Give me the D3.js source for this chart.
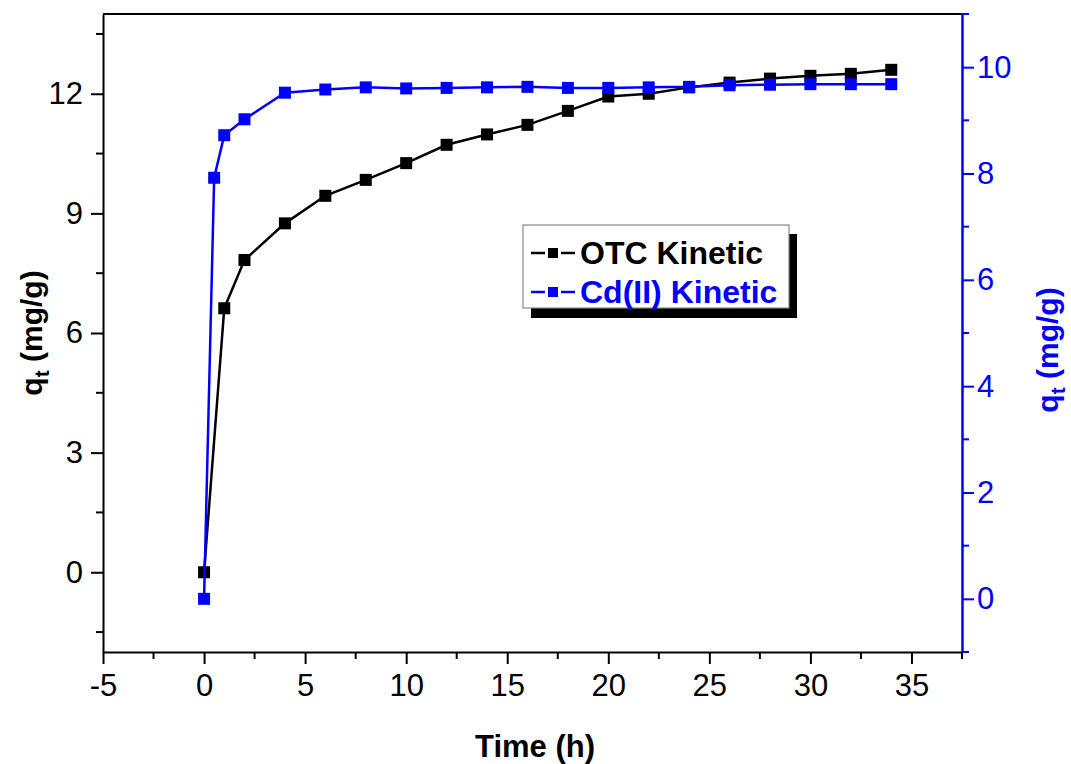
<!DOCTYPE html>
<html>
<head>
<meta charset="utf-8">
<script src="https://cdn.jsdelivr.net/npm/d3@7"></script>
<style>
  body { margin: 0; background: #fff; }
  text { font-family: Arial, "Liberation Sans", sans-serif; }
</style>
</head>
<body>
<svg id="chart" width="1071" height="764"></svg>
<script>
// time points (h)
var otcTime = [0, 1, 2, 4, 6, 8, 10, 12, 14, 16, 18, 20, 22, 24, 26, 28, 30, 32, 34];
var otcQt = [0, 6.62, 7.83, 8.75, 9.44, 9.84, 10.26, 10.72, 10.98, 11.22, 11.57, 11.93, 12.0, 12.16, 12.28, 12.38, 12.45, 12.5, 12.6];

var cdTime = [0, 0.5, 1, 2, 4, 6, 8, 10, 12, 14, 16, 18, 20, 22, 24, 26, 28, 30, 32, 34];
var cdQt = [0, 7.92, 8.72, 9.02, 9.52, 9.58, 9.62, 9.6, 9.61, 9.62, 9.63, 9.61, 9.61, 9.62, 9.63, 9.66, 9.67, 9.68, 9.68, 9.68];

var xTicks = [-5, 0, 5, 10, 15, 20, 25, 30, 35];
var yLeftTicks = [0, 3, 6, 9, 12];
var yRightTicks = [0, 2, 4, 6, 8, 10];

var legendLabels = ["OTC Kinetic", "Cd(II) Kinetic"];
var blue = "#0000ff";

var svg = d3.select("#chart");
var pLeft = 103, pRight = 962, pTop = 14, pBottom = 652;

var xScale = d3.scaleLinear().domain([-5, 37.5]).range([pLeft, pRight]);
var yLeft = d3.scaleLinear().domain([-2, 14]).range([pBottom, pTop]);
var yRight = d3.scaleLinear().domain([-1, 11]).range([pBottom, pTop]);

// minor ticks halfway between majors
function minors(major, step, domain) {
  var out = [];
  for (var v = major[0] - step / 2; v <= domain[1]; v += step) {
    if (v >= domain[0]) out.push(v);
  }
  return out.filter(function(v) { return major.indexOf(v) < 0; });
}

// bottom axis
var gx = svg.append("g").attr("transform", "translate(0," + pBottom + ")");
gx.call(d3.axisBottom(xScale).tickValues(xTicks).tickSize(12).tickSizeOuter(0)
  .tickFormat(function(d) { return String(d); }));
gx.selectAll(".tick text").attr("font-size", 31).attr("y", 22).attr("fill", "#000");
gx.selectAll(".tick line").attr("stroke-width", 2);
gx.select(".domain").attr("stroke-width", 2);
gx.selectAll(".minor").data(minors(xTicks, 5, xScale.domain())).enter().append("line")
  .attr("x1", function(d) { return xScale(d); }).attr("x2", function(d) { return xScale(d); })
  .attr("y1", 0).attr("y2", 7).attr("stroke", "#000").attr("stroke-width", 2);

// left axis
var gy = svg.append("g").attr("transform", "translate(" + pLeft + ",0)");
gy.call(d3.axisLeft(yLeft).tickValues(yLeftTicks).tickSize(12).tickSizeOuter(0));
gy.selectAll(".tick text").attr("font-size", 31).attr("x", -20).attr("fill", "#000");
gy.selectAll(".tick line").attr("stroke-width", 2);
gy.select(".domain").attr("stroke-width", 2);
gy.selectAll(".minor").data(minors(yLeftTicks, 3, yLeft.domain())).enter().append("line")
  .attr("y1", function(d) { return yLeft(d); }).attr("y2", function(d) { return yLeft(d); })
  .attr("x1", 0).attr("x2", -7).attr("stroke", "#000").attr("stroke-width", 2);

// top frame line
svg.append("line").attr("x1", pLeft).attr("x2", pRight).attr("y1", pTop).attr("y2", pTop)
  .attr("stroke", "#000").attr("stroke-width", 2);

// right axis
var gr = svg.append("g").attr("transform", "translate(" + pRight + ",0)");
gr.call(d3.axisRight(yRight).tickValues(yRightTicks).tickSize(12).tickSizeOuter(0));
gr.selectAll(".tick text").attr("font-size", 31).attr("x", 15).attr("fill", blue);
gr.selectAll(".tick line").attr("stroke", blue).attr("stroke-width", 2);
gr.select(".domain").attr("stroke", blue).attr("stroke-width", 2.5);
gr.selectAll(".minor").data(minors(yRightTicks, 2, yRight.domain())).enter().append("line")
  .attr("y1", function(d) { return yRight(d); }).attr("y2", function(d) { return yRight(d); })
  .attr("x1", 0).attr("x2", 7).attr("stroke", blue).attr("stroke-width", 2);

// axis titles
svg.append("text").attr("x", 535).attr("y", 757).attr("text-anchor", "middle")
  .attr("font-size", 31).attr("font-weight", "bold").text("Time (h)");

var lt = svg.append("text").attr("transform", "translate(42,333) rotate(-90)")
  .attr("text-anchor", "middle").attr("font-size", 30).attr("font-weight", "bold");
lt.append("tspan").text("q");
lt.append("tspan").attr("font-size", 21).attr("dy", 7).text("t");
lt.append("tspan").attr("dy", -7).text(" (mg/g)");

var rt = svg.append("text").attr("transform", "translate(1058,350) rotate(-90)")
  .attr("text-anchor", "middle").attr("font-size", 30).attr("font-weight", "bold").attr("fill", blue);
rt.append("tspan").text("q");
rt.append("tspan").attr("font-size", 21).attr("dy", 7).text("t");
rt.append("tspan").attr("dy", -7).text(" (mg/g)");

// series
function drawSeries(times, vals, yS, color) {
  var pts = times.map(function(t, i) { return [t, vals[i]]; });
  svg.append("path").datum(pts)
    .attr("d", d3.line().x(function(d) { return xScale(d[0]); }).y(function(d) { return yS(d[1]); }))
    .attr("fill", "none").attr("stroke", color).attr("stroke-width", 2.5);
  svg.append("g").selectAll("rect").data(pts).enter().append("rect")
    .attr("x", function(d) { return xScale(d[0]) - 6; })
    .attr("y", function(d) { return yS(d[1]) - 6; })
    .attr("width", 12).attr("height", 12).attr("fill", color);
}
drawSeries(otcTime, otcQt, yLeft, "#000");
drawSeries(cdTime, cdQt, yRight, blue);

// legend
var lg = svg.append("g").attr("transform", "translate(523,225)");
lg.append("rect").attr("x", 8).attr("y", 9).attr("width", 266).attr("height", 84).attr("fill", "#000");
lg.append("rect").attr("x", 0).attr("y", 0).attr("width", 266).attr("height", 83)
  .attr("fill", "#fff").attr("stroke", "#888").attr("stroke-width", 1.2);
var colors = ["#000", blue];
legendLabels.forEach(function(lab, i) {
  var yy = 28 + i * 39;
  lg.append("line").attr("x1", 8).attr("x2", 22).attr("y1", yy).attr("y2", yy)
    .attr("stroke", colors[i]).attr("stroke-width", 2.5);
  lg.append("line").attr("x1", 38).attr("x2", 52).attr("y1", yy).attr("y2", yy)
    .attr("stroke", colors[i]).attr("stroke-width", 2.5);
  lg.append("rect").attr("x", 25).attr("y", yy - 5).attr("width", 10).attr("height", 10).attr("fill", colors[i]);
  lg.append("text").attr("x", 57).attr("y", yy + 11).attr("font-size", 32).attr("font-weight", "bold")
    .attr("fill", colors[i]).text(lab);
});
</script>
</body>
</html>
